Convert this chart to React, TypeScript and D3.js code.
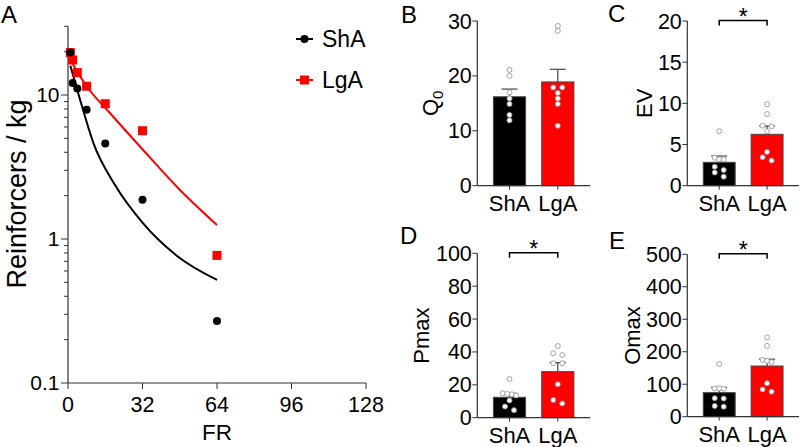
import React from "react";
import * as d3 from "d3";

const FONT = '"Liberation Sans", Arial, Helvetica, sans-serif';
const AXIS = "#333";

// panel A: consumption per FR (points) and the fitted demand curves
const frValues = [1, 2, 4, 8, 16, 32, 64];
const shaConsumption = [19.7, 12.1, 11.1, 7.9, 4.6, 1.87, 0.27];
const lgaConsumption = [19.7, 17.5, 14.3, 11.5, 8.7, 5.65, 0.77];
const shaFitFR = [1, 5, 11, 20, 32, 47, 64];
const shaFit = [16, 9.5, 4.6, 2.4, 1.3, 0.76, 0.52];
const lgaFitFR = [1, 8, 18, 32, 48, 64];
const lgaFit = [17.5, 11.5, 7.5, 4.2, 2.2, 1.25];
const frTicks = [0, 32, 64, 96, 128];
const logTicks = [0.1, 1, 10];

// panels B-E
const groups = ["ShA", "LgA"];

const q0Means = [16.2, 18.9];
const q0Sem = [1.4, 2.3];
const q0ShA = [21.1, 20.0, 17.0, 15.9, 14.9, 12.9, 11.9];
const q0LgA = [29.1, 28.2, 17.9, 17.9, 16.9, 15.9, 14.9, 10.9];
const q0Ticks = [0, 10, 20, 30];

const evMeans = [2.84, 6.24];
const evSem = [0.76, 1.0];
const evShA = [6.6, 3.4, 3.2, 3.2, 2.3, 1.9, 1.6, 1.1];
const evLgA = [9.9, 8.7, 7.3, 7.2, 6.6, 4.1, 3.45, 3.05];
const evTicks = [0, 5, 10, 15, 20];

const pmaxMeans = [12.4, 28.0];
const pmaxSem = [2.4, 5.5];
const pmaxShA = [23.5, 14.8, 14.5, 14.2, 13.5, 10.5, 6.8, 4.6];
const pmaxLgA = [43.6, 39.2, 38.1, 33.1, 33.1, 20.3, 10.8, 8.7];
const pmaxTicks = [0, 20, 40, 60, 80, 100];

const omaxMeans = [74, 156];
const omaxSem = [16, 21];
const omaxShA = [162, 87, 87, 86, 57, 56, 33, 31];
const omaxLgA = [244, 218, 175, 172, 168, 103, 84, 77];
const omaxTicks = [0, 100, 200, 300, 400, 500];

const barColors = ["#000000", "#ff0000"];

// spread dots that sit on (nearly) the same height into a small row
function swarm(ys: number[], step = 4.5) {
  const order = ys.map((y, i) => i).sort((a, b) => ys[a] - ys[b]);
  const offs = new Array(ys.length).fill(0);
  let row: number[] = [];
  const flush = () => {
    const n = row.length;
    row.forEach((idx, k) => {
      offs[idx] = n === 2 ? (k === 0 ? -step : step) : (k - (n - 1) / 2) * step;
    });
    row = [];
  };
  order.forEach((i) => {
    if (row.length && ys[i] - ys[row[0]] >= 4.5) flush();
    row.push(i);
  });
  flush();
  return offs;
}

function T(props: any) {
  return <text fontFamily={FONT} fill="#000" {...props} />;
}

function DemandPanel() {
  const x = d3.scaleLinear().domain([0, 128]).range([68, 366]);
  const y = d3.scaleLog().domain([0.1, 30]).range([383, 26.3]);
  const line = d3
    .line<number[]>()
    .x((d) => x(d[0]))
    .y((d) => y(d[1]))
    .curve(d3.curveMonotoneX);

  const shaCurve = shaFitFR.map((f, i) => [f, shaFit[i]]);
  const lgaCurve = lgaFitFR.map((f, i) => [f, lgaFit[i]]);

  return (
    <g>
      <T x={1} y={23} fontSize={24}>A</T>
      {/* axes */}
      <line x1={68} x2={68} y1={y(30)} y2={383} stroke={AXIS} strokeWidth={1.2} />
      <line x1={68} x2={366} y1={383} y2={383} stroke={AXIS} strokeWidth={1.2} />
      {y.ticks().map((t) => {
        const major = logTicks.includes(t);
        return (
          <line key={"yt" + t} x1={68} x2={68 - (major ? 7 : 4)} y1={y(t)} y2={y(t)} stroke={AXIS} strokeWidth={1} />
        );
      })}
      {logTicks.map((t) => (
        <T key={"yl" + t} x={59.5} y={y(t)} dy="0.35em" textAnchor="end" fontSize={21}>
          {String(t)}
        </T>
      ))}
      {frTicks.map((t) => (
        <g key={"xt" + t}>
          <line x1={x(t)} x2={x(t)} y1={383} y2={389} stroke={AXIS} strokeWidth={1} />
          <T x={x(t)} y={411.5} textAnchor="middle" fontSize={21.5}>{t}</T>
        </g>
      ))}
      <T x={217} y={440} textAnchor="middle" fontSize={22.5}>FR</T>
      <T transform="translate(26,194) rotate(-90)" textAnchor="middle" fontSize={27}>
        Reinforcers / kg
      </T>

      {/* fits */}
      <path d={line(lgaCurve) || ""} fill="none" stroke="#ff0000" strokeWidth={2} />
      <path d={line(shaCurve) || ""} fill="none" stroke="#000" strokeWidth={2} />

      {/* points */}
      {frValues.map((f, i) => (
        <rect key={"lg" + f} x={x(f) - 4.5} y={y(lgaConsumption[i]) - 4.5} width={9} height={9} fill="#ff0000" />
      ))}
      {frValues.map((f, i) => (
        <circle key={"sh" + f} cx={x(f)} cy={y(shaConsumption[i])} r={4} fill="#000" />
      ))}

      {/* legend */}
      <line x1={296} x2={313} y1={39} y2={39} stroke="#000" strokeWidth={2} />
      <circle cx={304.5} cy={39} r={4} fill="#000" />
      <T x={322} y={46.5} fontSize={23}>ShA</T>
      <line x1={296} x2={313} y1={80} y2={80} stroke="#ff0000" strokeWidth={2} />
      <rect x={300} y={75.5} width={9} height={9} fill="#ff0000" />
      <T x={322} y={88} fontSize={23}>LgA</T>
    </g>
  );
}

type BarProps = {
  letter: string;
  letterX: number;
  letterY: number;
  x0: number;
  x1: number;
  yBottom: number;
  yTop: number;
  ticks: number[];
  label: React.ReactNode;
  labelX: number;
  means: number[];
  sems: number[];
  dots: number[][];
  star: boolean;
};

function BarPanel(p: BarProps) {
  const max = p.ticks[p.ticks.length - 1];
  const x = d3.scaleBand().domain(groups).range([p.x0, p.x1]).paddingInner(1 / 3).paddingOuter(1 / 3);
  const y = d3.scaleLinear().domain([0, max]).range([p.yBottom, p.yTop]);
  const bw = x.bandwidth();
  const cx = (g: string) => (x(g) as number) + bw / 2;
  const midY = (p.yBottom + p.yTop) / 2;
  const brY = p.yTop - 0.5;

  return (
    <g>
      <T x={p.letterX} y={p.letterY} fontSize={24}>{p.letter}</T>
      <T transform={`translate(${p.labelX},${midY}) rotate(-90)`} textAnchor="middle" fontSize={22}>
        {p.label}
      </T>

      {groups.map((g, i) => {
        const top = y(p.means[i]);
        const errY = y(p.means[i] + p.sems[i]);
        return (
          <g key={g}>
            <line x1={cx(g)} x2={cx(g)} y1={top} y2={errY} stroke="#444" strokeWidth={1.2} />
            <line x1={cx(g) - 8} x2={cx(g) + 8} y1={errY} y2={errY} stroke="#444" strokeWidth={1.2} />
            <rect x={x(g)} y={top} width={bw} height={p.yBottom - top} fill={barColors[i]} stroke="#444" strokeWidth={1} />
          </g>
        );
      })}

      {groups.map((g, i) => {
        const ys = p.dots[i].map((v) => y(v));
        const offs = swarm(ys);
        return ys.map((yy, k) => (
          <circle key={g + k} cx={cx(g) + offs[k]} cy={yy} r={2.5} fill="#fff" stroke="#999" strokeWidth={0.9} />
        ));
      })}

      {/* axes */}
      <line x1={p.x0} x2={p.x0} y1={p.yTop} y2={p.yBottom} stroke={AXIS} strokeWidth={1.2} />
      <line x1={p.x0} x2={p.x1} y1={p.yBottom} y2={p.yBottom} stroke={AXIS} strokeWidth={1.2} />
      {p.ticks.map((t) => (
        <g key={t}>
          <line x1={p.x0} x2={p.x0 - 5} y1={y(t)} y2={y(t)} stroke={AXIS} strokeWidth={1} />
          <T x={p.x0 - 5.5} y={y(t)} dy="0.35em" textAnchor="end" fontSize={21.5}>{t}</T>
        </g>
      ))}
      {groups.map((g) => (
        <g key={"x" + g}>
          <line x1={cx(g)} x2={cx(g)} y1={p.yBottom} y2={p.yBottom + 4} stroke={AXIS} strokeWidth={1} />
          <T x={cx(g)} y={p.yBottom + 25.5} textAnchor="middle" fontSize={22}>{g}</T>
        </g>
      ))}

      {p.star && (
        <g>
          <path
            d={`M${cx("ShA")},${brY + 5}V${brY}H${cx("LgA")}V${brY + 5}`}
            fill="none"
            stroke="#000"
            strokeWidth={1.5}
          />
          <T x={(cx("ShA") + cx("LgA")) / 2} y={brY + 4} textAnchor="middle" fontSize={23}>*</T>
        </g>
      )}
    </g>
  );
}

export default function App() {
  return (
    <svg
      width={800}
      height={447}
      viewBox="0 0 800 447"
      style={{ position: "absolute", left: 0, top: 0, background: "#fff", fontFamily: FONT }}
    >
      <DemandPanel />
      <BarPanel
        letter="B" letterX={401} letterY={23}
        x0={477.3} x1={590} yBottom={185.7} yTop={21}
        ticks={q0Ticks}
        label={<>Q<tspan dy="0.3em" fontSize={15}>0</tspan></>}
        labelX={438}
        means={q0Means} sems={q0Sem} dots={[q0ShA, q0LgA]} star={false}
      />
      <BarPanel
        letter="C" letterX={608} letterY={22}
        x0={687.3} x1={799} yBottom={185.7} yTop={21}
        ticks={evTicks} label="EV" labelX={651.5}
        means={evMeans} sems={evSem} dots={[evShA, evLgA]} star={true}
      />
      <BarPanel
        letter="D" letterX={400} letterY={244}
        x0={477.3} x1={590} yBottom={417.7} yTop={253.3}
        ticks={pmaxTicks} label="Pmax" labelX={428.5}
        means={pmaxMeans} sems={pmaxSem} dots={[pmaxShA, pmaxLgA]} star={true}
      />
      <BarPanel
        letter="E" letterX={609} letterY={249}
        x0={687.3} x1={799} yBottom={416.7} yTop={254.3}
        ticks={omaxTicks} label="Omax" labelX={640}
        means={omaxMeans} sems={omaxSem} dots={[omaxShA, omaxLgA]} star={true}
      />
    </svg>
  );
}
